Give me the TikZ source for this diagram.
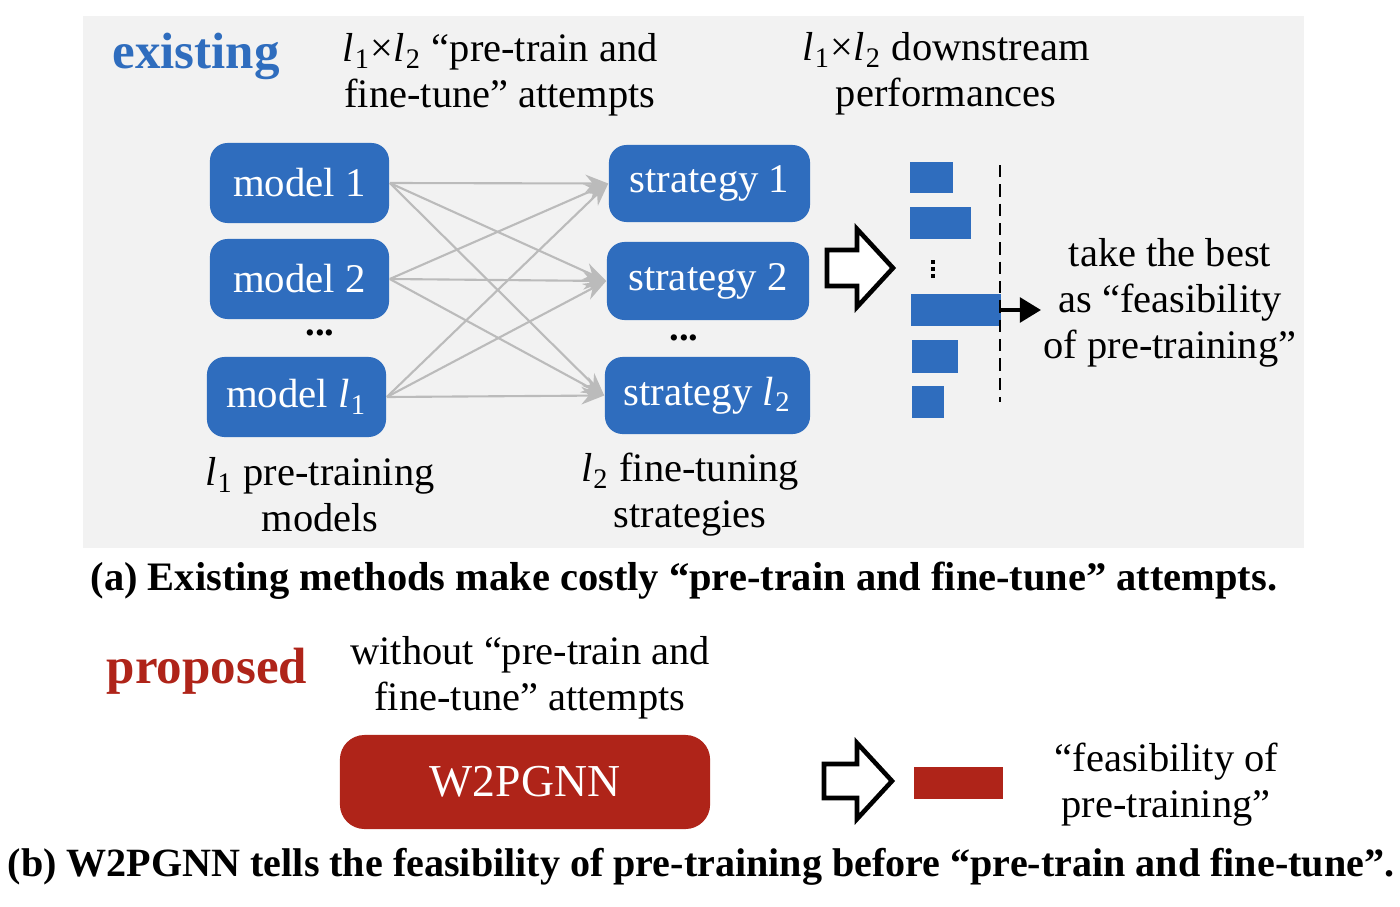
\documentclass[tikz,border=0pt]{standalone}
\usepackage{fontspec}
\setmainfont{Liberation Serif}
\usetikzlibrary{arrows.meta}
\definecolor{bgc}{HTML}{F2F2F2}
\definecolor{blu}{HTML}{2F6DBE}
\definecolor{rd}{HTML}{AF2419}
\definecolor{ln}{HTML}{BBBBBB}
\newcommand\ls[1]{\textit{l}\kern0.3pt\textsubscript{#1}}
\begin{document}
\begin{tikzpicture}[x=0.01cm,y=-0.01cm,
  txt/.style={font=\fontsize{11.5}{13.1}\selectfont, align=center, text=black, inner sep=0, yshift=-0.03cm},
  captext/.style={font=\bfseries\fontsize{11.5}{13.1}\selectfont, text=black, inner sep=0, yshift=-0.03cm},
  bluebox/.style={fill=blu, rounded corners=5pt, text=white, font=\fontsize{11.6}{14}\selectfont, inner sep=0},
  conn/.style={draw=ln, line width=0.6pt, -{Stealth[length=6.5pt,width=5pt]}},
  bar/.style={fill=blu, draw=none},
  hollow/.style={draw=black, line width=1.3pt, fill=white, line join=miter}]
\useasboundingbox (0,0) rectangle (1400,906);
\fill[bgc] (83,16) rectangle (1304,548);

% headers
\node[font=\bfseries\fontsize{14.5}{16}\selectfont, text=blu, inner sep=0, yshift=-0.03cm] (ex) at (196,53) {existing};
\node[txt] (h1) at (500,72) {\ls{1}×\ls{2} “pre-train and\\fine-tune” attempts};
\node[txt] (h2) at (946,71) {\ls{1}×\ls{2} downstream\\performances};

% models
\node[bluebox, minimum width=1.79cm, minimum height=0.80cm] (m1) at (299.5,183) {model 1};
\node[bluebox, minimum width=1.79cm, minimum height=0.80cm] (m2) at (299.5,279) {model 2};
\node[bluebox, minimum width=1.79cm, minimum height=0.80cm] (m3) at (296.5,397) {model \ls{1}};
\node[font=\bfseries\fontsize{11}{13}\selectfont, inner sep=0] (d1) at (320,333) {...};

% strategies
\node[bluebox, minimum width=2.01cm, minimum height=0.77cm] (s1) at (709.5,183.5) {strategy 1};
\node[bluebox, minimum width=2.02cm, minimum height=0.78cm] (s2) at (708,281) {strategy 2};
\node[bluebox, minimum width=2.05cm, minimum height=0.77cm] (s3) at (707.5,395.5) {strategy \ls{2}};
\node[font=\bfseries\fontsize{11}{13}\selectfont, inner sep=0] (d2) at (684,338) {...};

\foreach \m in {m1,m2,m3}{\foreach \s in {s1,s2,s3}{\draw[conn] (\m.east) -- (\s.west);}}

% labels
\node[txt] (lm) at (320,492) {\ls{1} pre-training\\models};
\node[txt] (lsx) at (690,492) {\ls{2} fine-tuning\\strategies};

% hollow arrow 1
\draw[hollow, shift={(827,268)}] (0,-18) -- (30,-18) -- (30,-39) -- (66,0) -- (30,39) -- (30,18) -- (0,18) -- cycle;

% bars
\fill[bar] (910,162) rectangle (953,193);
\fill[bar] (910,207) rectangle (971,239);
\foreach \yy in {260,267,274}{\fill[black] (931,\yy) rectangle (935,\yy+4);}
\fill[bar] (911,294) rectangle (1001,326);
\fill[bar] (912,340) rectangle (958,373);
\fill[bar] (912,386) rectangle (944,418);
\coordinate (dtop) at (1000,165);
\coordinate (dbot) at (1000,402);
\draw[black, line width=0.8pt, dash pattern=on 3.5pt off 2pt] (dtop) -- (dbot);
\coordinate (bs) at (1001,310);
\node[txt] (best) at (1170,300) {take the best\\as “feasibility\\of pre-training”};
\coordinate (be) at (1041,310);
\draw[black, line width=1.1pt, -{Triangle[length=6pt,width=7pt]}] (bs) -- (be);

% caption a
\node[captext] (ca) at (684,578) {(a) Existing methods make costly “pre-train and fine-tune” attempts.};

% proposed
\node[font=\bfseries\fontsize{14.5}{16}\selectfont, text=rd, inner sep=0, yshift=-0.03cm] (pr) at (207,668) {proposed};
\node[txt] (wo) at (530,675) {without “pre-train and\\fine-tune” attempts};
\node[fill=rd, rounded corners=7pt, minimum width=3.70cm, minimum height=0.94cm, inner sep=0, text=white, font=\fontsize{13}{15}\selectfont] (w2) at (525,782) {W2PGNN};

\draw[hollow, shift={(824,781)}] (0,-17) -- (33,-17) -- (33,-38) -- (68,0) -- (33,38) -- (33,17) -- (0,17) -- cycle;
\fill[rd] (914,767) rectangle (1003,799);
\node[txt, align=left, anchor=west] (fe) at (1054,782) {“feasibility of\\\hspace*{2pt}pre-training”};

\node[captext, font=\bfseries\fontsize{11.4}{13}\selectfont] (cb) at (701,864) {(b) W2PGNN tells the feasibility of pre-training before “pre-train and fine-tune”.};
\end{tikzpicture}
\end{document}
